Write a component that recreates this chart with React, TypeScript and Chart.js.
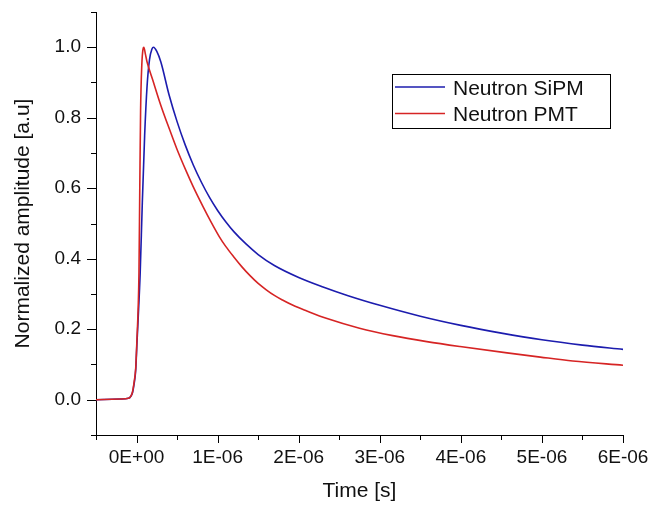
import React, { useEffect, useRef } from "react";
import { Chart, registerables } from "chart.js";

Chart.register(...registerables);

// time in microseconds (axis labels shown as E-06 seconds)
const sipmTime = [-0.5, -0.2, -0.1, -0.07, -0.05, -0.03, -0.01, 0.005, 0.02, 0.045, 0.07, 0.1, 0.13, 0.16, 0.19, 0.21, 0.25, 0.3, 0.4, 0.5, 0.6, 0.7, 0.8, 0.9, 1.0, 1.1, 1.2, 1.35, 1.5, 1.7, 2.0, 2.3, 2.6, 3.0, 3.5, 4.0, 4.5, 5.0, 5.5, 6.0];
const sipmValue = [0, 0.002, 0.004, 0.01, 0.02, 0.045, 0.085, 0.16, 0.23, 0.36, 0.55, 0.75, 0.89, 0.965, 0.995, 1.0, 0.988, 0.958, 0.866, 0.789, 0.723, 0.666, 0.617, 0.574, 0.537, 0.505, 0.477, 0.442, 0.412, 0.381, 0.347, 0.32, 0.296, 0.268, 0.237, 0.211, 0.189, 0.17, 0.155, 0.143];

const pmtTime = [-0.5, -0.2, -0.1, -0.07, -0.05, -0.03, -0.01, 0.005, 0.02, 0.03, 0.04, 0.05, 0.065, 0.08, 0.09, 0.11, 0.13, 0.2, 0.3, 0.41, 0.5, 0.61, 0.7, 0.82, 0.92, 1.02, 1.1, 1.2, 1.3, 1.4, 1.5, 1.6, 1.7, 1.8, 1.93, 2.1, 2.34, 2.75, 3.16, 3.58, 3.99, 4.57, 4.98, 5.38, 6.0];
const pmtValue = [0, 0.002, 0.004, 0.01, 0.022, 0.05, 0.09, 0.17, 0.26, 0.36, 0.6, 0.82, 0.95, 0.995, 1.0, 0.98, 0.958, 0.907, 0.835, 0.765, 0.71, 0.65, 0.604, 0.548, 0.504, 0.463, 0.435, 0.405, 0.377, 0.352, 0.33, 0.312, 0.296, 0.283, 0.268, 0.252, 0.231, 0.203, 0.182, 0.165, 0.151, 0.133, 0.121, 0.11, 0.098];

const seriesLabels = ["Neutron SiPM", "Neutron PMT"];
const seriesColors = ["#1c1cae", "#d62424"];

const xTitle = "Time [s]";
const yTitle = "Normalized amplitude [a.u]";

const FONT = "'Liberation Sans', Arial, sans-serif";
const TEXT = "#111";

const tickPlugin = {
  id: "customTicks",
  afterDraw(chart: any) {
    const ctx = chart.ctx;
    const xs = chart.scales.x;
    const ys = chart.scales.y;
    ctx.save();
    ctx.strokeStyle = "#000";
    ctx.lineWidth = 1;
    ys.ticks.forEach((t: any) => {
      const n = Math.round(t.value * 10);
      const major = n % 2 === 0 && n >= 0 && n <= 10;
      const len = major ? 9 : 5;
      const py = Math.round(ys.getPixelForValue(t.value)) + 0.5;
      const px = xs.left;
      ctx.beginPath();
      ctx.moveTo(px - len, py);
      ctx.lineTo(px, py);
      ctx.stroke();
    });
    xs.ticks.forEach((t: any) => {
      const n = Math.round(t.value * 2);
      const major = n % 2 === 0;
      const len = major ? 8 : 5;
      const px = Math.round(xs.getPixelForValue(t.value)) + 0.5;
      const py = ys.bottom;
      ctx.beginPath();
      ctx.moveTo(px, py);
      ctx.lineTo(px, py + len);
      ctx.stroke();
    });
    ctx.restore();
  },
};

const legendPlugin = {
  id: "boxLegend",
  afterDraw(chart: any) {
    const ctx = chart.ctx;
    ctx.save();
    ctx.strokeStyle = "#000";
    ctx.lineWidth = 1;
    ctx.strokeRect(392.5, 74.5, 218, 54);
    ctx.font = `21px ${FONT}`;
    ctx.textBaseline = "middle";
    ctx.fillStyle = TEXT;
    chart.data.datasets.forEach((ds: any, i: number) => {
      const y = 87 + i * 26.5;
      ctx.strokeStyle = ds.borderColor;
      ctx.lineWidth = 1.6;
      ctx.beginPath();
      ctx.moveTo(395, y);
      ctx.lineTo(445, y);
      ctx.stroke();
      ctx.fillText(ds.label, 453, y + 2);
    });
    ctx.restore();
  },
};

export default function App() {
  const ref = useRef<HTMLCanvasElement>(null);
  useEffect(() => {
    if (!ref.current) return;
    const chart = new Chart(ref.current, {
      type: "line",
      data: {
        datasets: [
          {
            label: seriesLabels[0],
            data: sipmTime.map((t, i) => ({ x: t, y: sipmValue[i] })),
            borderColor: seriesColors[0],
            borderWidth: 1.6,
            pointRadius: 0,
            fill: false,
            cubicInterpolationMode: "monotone",
            order: 1,
          },
          {
            label: seriesLabels[1],
            data: pmtTime.map((t, i) => ({ x: t, y: pmtValue[i] })),
            borderColor: seriesColors[1],
            borderWidth: 1.6,
            pointRadius: 0,
            fill: false,
            cubicInterpolationMode: "monotone",
            order: 0,
          },
        ],
      },
      options: {
        responsive: false,
        animation: false,
        layout: { padding: { left: 0, top: 12, right: 27, bottom: 0 } },
        plugins: { legend: { display: false }, tooltip: { enabled: false } },
        scales: {
          x: {
            type: "linear",
            min: -0.5,
            max: 6,
            afterFit: (s: any) => {
              s.height = 71;
              s.paddingLeft = 0;
              s.paddingRight = 0;
            },
            border: { display: true, color: "#000", width: 1 },
            grid: { display: true, drawOnChartArea: false, drawTicks: true, tickLength: 8, color: "transparent" },
            ticks: {
              stepSize: 0.5,
              autoSkip: false,
              maxRotation: 0,
              padding: 3,
              color: TEXT,
              font: { family: FONT, size: 19 },
              callback: (v: any) => {
                const n = Math.round(Number(v) * 2);
                if (n % 2 !== 0) return "";
                const k = n / 2;
                return k === 0 ? "0E+00" : `${k}E-06`;
              },
            },
            title: {
              display: true,
              text: xTitle,
              color: TEXT,
              font: { family: FONT, size: 21 },
              padding: { top: 0, bottom: 2 },
            },
          },
          y: {
            type: "linear",
            min: -0.1,
            max: 1.1,
            afterFit: (s: any) => {
              s.width = 96;
              s.paddingTop = 0;
              s.paddingBottom = 0;
            },
            border: { display: true, color: "#000", width: 1 },
            grid: { display: true, drawOnChartArea: false, drawTicks: true, tickLength: 9, color: "transparent" },
            ticks: {
              stepSize: 0.1,
              autoSkip: false,
              padding: 6,
              color: TEXT,
              font: { family: FONT, size: 19 },
              callback: (v: any) => {
                const n = Math.round(Number(v) * 10);
                if (n % 2 !== 0 || n < 0 || n > 10) return "";
                return (n / 10).toFixed(1);
              },
            },
            title: {
              display: true,
              text: yTitle,
              color: TEXT,
              font: { family: FONT, size: 21 },
              padding: { top: 11, bottom: 0 },
            },
          },
        },
      },
      plugins: [tickPlugin, legendPlugin],
    } as any);
    return () => chart.destroy();
  }, []);
  return (
    <div style={{ position: "absolute", left: 0, top: 0, width: 650, height: 506, background: "#fff" }}>
      <canvas ref={ref} width={650} height={506} />
    </div>
  );
}
